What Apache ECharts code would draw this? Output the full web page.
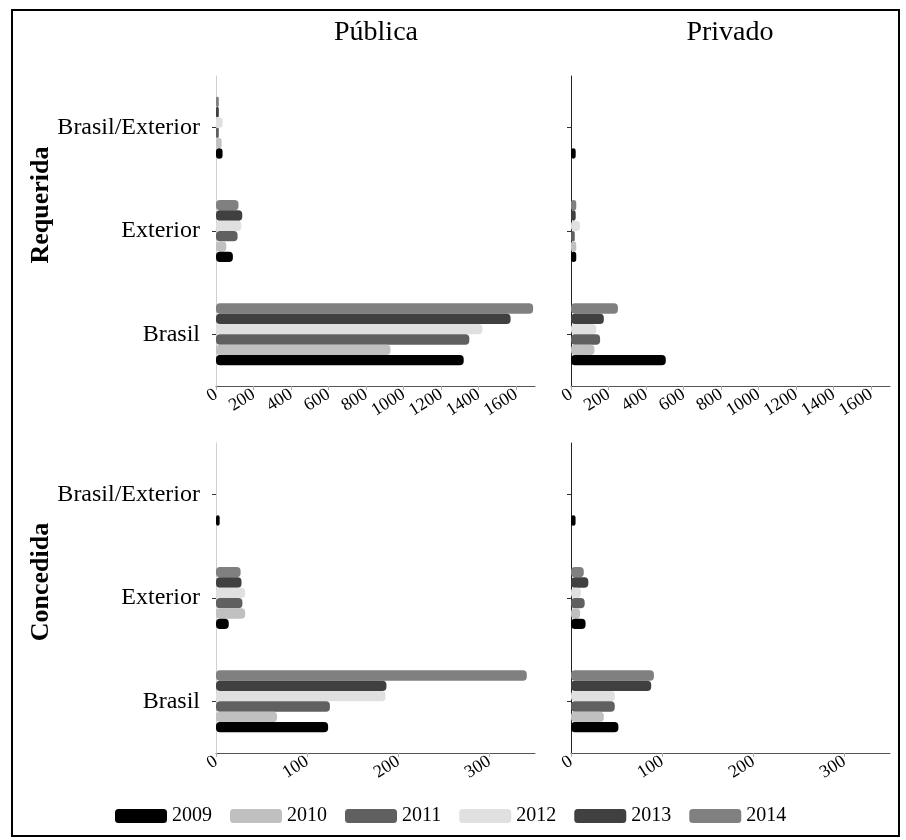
<!DOCTYPE html>
<html>
<head>
<meta charset="utf-8">
<title>Requerida / Concedida</title>
<script src="https://cdn.jsdelivr.net/npm/echarts@6/dist/echarts.min.js"></script>
<style>
  html, body { margin: 0; padding: 0; background: #fff; }
  #chart { width: 906px; height: 840px; }
</style>
</head>
<body>
<div id="chart"></div>
<script>
// Years (series) and categories (y axis, bottom to top)
const years = ['2009', '2010', '2011', '2012', '2013', '2014'];
const categories = ['Brasil', 'Exterior', 'Brasil/Exterior'];
const yearColors = ['#000000', '#c0c0c0', '#606060', '#e0e0e0', '#404040', '#808080'];

// One row per year: [Brasil, Exterior, Brasil/Exterior]
const requeridaPublica = [
  [1320, 90, 35],
  [930, 55, 30],
  [1350, 115, 15],
  [1420, 135, 35],
  [1570, 140, 15],
  [1690, 120, 15]
];
const requeridaPrivado = [
  [505, 28, 25],
  [125, 28, 0],
  [155, 20, 0],
  [135, 48, 0],
  [175, 25, 0],
  [250, 28, 0]
];
const concedidaPublica = [
  [123, 14, 4],
  [67, 32, 0],
  [125, 29, 0],
  [186, 32, 0],
  [187, 28, 0],
  [341, 27, 0]
];
const concedidaPrivado = [
  [52, 16, 5],
  [36, 10, 0],
  [48, 15, 0],
  [48, 11, 0],
  [88, 19, 0],
  [91, 14, 0]
];

// Value axis ticks and extents
const requeridaTicks = [0, 200, 400, 600, 800, 1000, 1200, 1400, 1600];
const requeridaMax = 1700;
const concedidaTicks = [0, 100, 200, 300];
const concedidaMax = 350;

const columnTitles = ['Pública', 'Privado'];
const rowTitles = ['Requerida', 'Concedida'];

const serif = '"Liberation Serif", "Times New Roman", serif';

// Four panels: rows Requerida / Concedida, columns Pública / Privado
const panels = [
  { grid: { left: 216, top: 76, width: 319, height: 310 }, data: requeridaPublica, ticks: requeridaTicks, max: requeridaMax, first: true },
  { grid: { left: 571, top: 76, width: 319, height: 310 }, data: requeridaPrivado, ticks: requeridaTicks, max: requeridaMax, first: false },
  { grid: { left: 216, top: 443, width: 319, height: 310 }, data: concedidaPublica, ticks: concedidaTicks, max: concedidaMax, first: true },
  { grid: { left: 571, top: 443, width: 319, height: 310 }, data: concedidaPrivado, ticks: concedidaTicks, max: concedidaMax, first: false }
];

const grids = [], xAxes = [], yAxes = [], series = [];

panels.forEach((p, i) => {
  grids.push(Object.assign({ containLabel: false }, p.grid));
  xAxes.push({
    gridIndex: i,
    type: 'value',
    min: 0,
    max: p.max,
    axisLine: { show: true, lineStyle: { color: '#555', width: 1 } },
    axisTick: { show: true, length: 4, lineStyle: { color: '#aaa' }, customValues: p.ticks },
    axisLabel: {
      rotate: 32, margin: 7, color: '#000',
      fontFamily: serif, fontSize: 18,
      customValues: p.ticks,
      formatter: v => String(v)
    },
    splitLine: { show: false }
  });
  yAxes.push({
    gridIndex: i,
    type: 'category',
    data: categories,
    axisLine: { show: true, lineStyle: { color: p.first ? '#cfcfcf' : '#222', width: 1 } },
    axisTick: { show: true, alignWithLabel: true, length: 4, lineStyle: { color: '#333' } },
    axisLabel: {
      show: p.first, margin: 16, color: '#000',
      fontFamily: serif, fontSize: 24
    },
    splitLine: { show: false }
  });
  // Within each group the latest year sits on top, so add series newest first
  for (let k = years.length - 1; k >= 0; k--) {
    series.push({
      name: years[k],
      type: 'bar',
      xAxisIndex: i,
      yAxisIndex: i,
      data: p.data[k],
      barGap: '0%',
      barCategoryGap: '40%',
      itemStyle: { color: yearColors[k], borderRadius: 4 },
      emphasis: { disabled: true },
      silent: true
    });
  }
});

const chart = echarts.init(document.getElementById('chart'), null, { renderer: 'canvas' });
chart.setOption({
  animation: false,
  backgroundColor: '#fff',
  grid: grids,
  xAxis: xAxes,
  yAxis: yAxes,
  series: series,
  legend: {
    data: years,
    left: 110,
    top: 801,
    icon: 'roundRect',
    itemWidth: 52,
    itemHeight: 14,
    itemGap: 18,
    textStyle: { fontFamily: serif, fontSize: 20, color: '#000' },
    selectedMode: false
  },
  graphic: [
    {
      type: 'rect',
      shape: { x: 12, y: 10, width: 887, height: 826 },
      style: { fill: null, stroke: '#000', lineWidth: 2 },
      silent: true
    },
    {
      type: 'text', x: 376, y: 33,
      style: { text: columnTitles[0], font: '28px ' + serif, fill: '#000', textAlign: 'center', textVerticalAlign: 'middle' }
    },
    {
      type: 'text', x: 730, y: 33,
      style: { text: columnTitles[1], font: '28px ' + serif, fill: '#000', textAlign: 'center', textVerticalAlign: 'middle' }
    },
    {
      type: 'text', x: 41, y: 205, rotation: Math.PI / 2,
      style: { text: rowTitles[0], font: 'bold 26px ' + serif, fill: '#000', textAlign: 'center', textVerticalAlign: 'middle' }
    },
    {
      type: 'text', x: 41, y: 582, rotation: Math.PI / 2,
      style: { text: rowTitles[1], font: 'bold 26px ' + serif, fill: '#000', textAlign: 'center', textVerticalAlign: 'middle' }
    }
  ]
});
</script>
</body>
</html>
